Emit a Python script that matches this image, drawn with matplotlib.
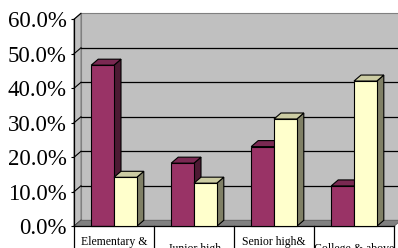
import matplotlib
matplotlib.use('agg')
import matplotlib.pyplot as plt
from matplotlib.patches import Polygon, Rectangle

# DATA ###############################################################

categories = ['Elementary &\nbelow', 'Junior high', 'Senior high&\nvocational', 'College & above']
series_a = [46.7, 18.3, 23.1, 11.7]
series_b = [14.2, 12.5, 31.1, 42.1]
yticks = [0, 10, 20, 30, 40, 50, 60]
ytick_labels = ['0.0%', '10.0%', '20.0%', '30.0%', '40.0%', '50.0%', '60.0%']

# STYLE ##############################################################

FACES_A = ('#993366', '#7a2952', '#4d1a33')   # front, top, side
FACES_B = ('#ffffcc', '#cccca3', '#808066')
WALL = '#c0c0c0'
FLOOR = '#808080'
DX, DY = 0.0875, 1.74        # depth offset in data units (~7px, ~6px)
BAR_W = 0.285

plt.rcParams['font.family'] = ['Liberation Serif', 'DejaVu Serif']

fig = plt.figure(figsize=(3.98, 2.48), dpi=100)
ax = fig.add_axes([74 / 398, 21.7 / 248, 320 / 398, 207 / 248])
ax.set_xlim(0, len(categories))
ax.set_ylim(0, 60)
ax.patch.set_visible(False)

# walls and floor
n = len(categories)
ax.add_patch(Rectangle((DX, DY), n, 60, fc=WALL, ec='#808080', lw=0.8, clip_on=False, zorder=0))
ax.add_patch(Polygon([(0, 0), (DX, DY), (DX, 60 + DY), (0, 60)], closed=True,
                     fc=WALL, ec='#808080', lw=0.8, clip_on=False, zorder=0))
ax.add_patch(Polygon([(0, 0), (n, 0), (n + DX, DY), (DX, DY)], closed=True,
                     fc=FLOOR, ec='#606060', lw=0.6, clip_on=False, zorder=0.5))
for v in yticks[1:-1]:
    ax.plot([DX, n + DX], [v + DY, v + DY], color='black', lw=0.9, clip_on=False, zorder=0.3)
for v in yticks:
    ax.plot([0, DX], [v, v + DY], color='black', lw=0.8, clip_on=False, zorder=0.3)

# bars
z = 2
for i in range(n):
    for j, (vals, faces) in enumerate([(series_a, FACES_A), (series_b, FACES_B)]):
        v = vals[i]
        x0 = i + 0.5 - BAR_W + j * BAR_W
        x1 = x0 + BAR_W
        ax.bar(x0, v, width=BAR_W, align='edge', color=faces[0], edgecolor='black',
               lw=0.8, zorder=z + 0.2, clip_on=False)
        ax.add_patch(Polygon([(x0, v), (x1, v), (x1 + DX, v + DY), (x0 + DX, v + DY)], closed=True,
                             fc=faces[1], ec='black', lw=0.8, clip_on=False, zorder=z + 0.1))
        ax.add_patch(Polygon([(x1, 0), (x1 + DX, DY), (x1 + DX, v + DY), (x1, v)], closed=True,
                             fc=faces[2], ec='black', lw=0.8, clip_on=False, zorder=z))
        z += 1

# axis and category boxes
for s in ['top', 'right']:
    ax.spines[s].set_visible(False)
ax.spines['left'].set_linewidth(0.9)
ax.spines['bottom'].set_linewidth(0.9)
ax.set_yticks(yticks)
ax.set_yticklabels(ytick_labels, fontsize=16.5)
ax.tick_params(axis='y', direction='out', length=2.2, width=0.8, pad=3)
ax.set_xticks([])
for i in range(n + 1):
    ax.plot([i, i], [0, -10], color='black', lw=0.9, clip_on=False, zorder=20)
for i, lab in enumerate(categories):
    t = ax.annotate(lab, xy=(i + 0.5, 0), xytext=(0, -16.3), textcoords='offset points',
                    ha='center', va='center', fontsize=8.5, annotation_clip=False)
    box = Rectangle((i, -10), 1, 10, transform=ax.transData)
    t.set_clip_path(box)
    t.set_clip_on(True)

fig.savefig('out.png', dpi=100)
